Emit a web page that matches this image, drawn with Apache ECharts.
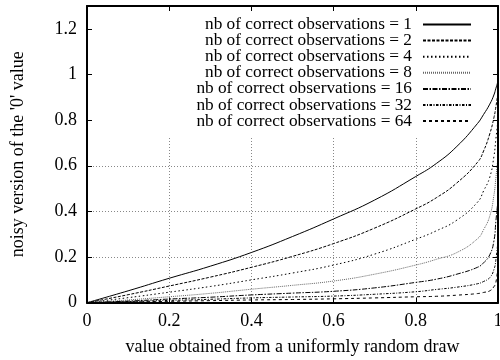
<!DOCTYPE html>
<html>
<head>
<meta charset="utf-8">
<script src="https://cdn.jsdelivr.net/npm/echarts@6/dist/echarts.min.js"></script>
<style>html,body{margin:0;padding:0;background:#fff}#c{width:500px;height:360px}</style>
</head>
<body>
<div id="c"></div>
<script>
var xs   = [0, 0.1, 0.2, 0.3, 0.4, 0.5, 0.6, 0.7, 0.8, 0.85, 0.9, 0.95, 0.965, 0.98, 0.99, 0.995, 1.0];
var n1   = [0, 0.052, 0.107, 0.160, 0.220, 0.290, 0.367, 0.450, 0.553, 0.610, 0.685, 0.785, 0.825, 0.870, 0.910, 0.940, 0.970];
var n2   = [0, 0.035, 0.073, 0.112, 0.155, 0.203, 0.259, 0.327, 0.411, 0.460, 0.525, 0.615, 0.665, 0.740, 0.810, 0.860, 0.920];
var n4   = [0, 0.022, 0.046, 0.071, 0.100, 0.130, 0.165, 0.213, 0.278, 0.315, 0.362, 0.440, 0.490, 0.550, 0.640, 0.720, 0.800];
var n8   = [0, 0.012, 0.026, 0.041, 0.059, 0.076, 0.095, 0.125, 0.165, 0.190, 0.220, 0.280, 0.320, 0.380, 0.470, 0.550, 0.640];
var n16  = [0, 0.007, 0.016, 0.024, 0.034, 0.042, 0.050, 0.065, 0.089, 0.103, 0.125, 0.155, 0.175, 0.210, 0.270, 0.360, 0.450];
var n32  = [0, 0.005, 0.010, 0.015, 0.021, 0.025, 0.029, 0.037, 0.048, 0.058, 0.068, 0.083, 0.093, 0.110, 0.145, 0.190, 0.275];
var n64  = [0, 0.003, 0.006, 0.009, 0.012, 0.014, 0.017, 0.021, 0.026, 0.028, 0.033, 0.040, 0.045, 0.052, 0.070, 0.090, 0.170];
var names = ['nb of correct observations = 1','nb of correct observations = 2','nb of correct observations = 4',
             'nb of correct observations = 8','nb of correct observations = 16','nb of correct observations = 32',
             'nb of correct observations = 64'];
var seriesValues = [n1, n2, n4, n8, n16, n32, n64];
var dashes = ['solid', [3,1.5], [1.5,2.5], [1,1], [5,1.5,1.5,1.5], [2.5,1.5,1,1.5], [3,3]];
var colors = ['#000','#000','#000','#666','#000','#000','#000'];

var FONT = 'Liberation Serif';
var FS = 18;
var LFS = 17.3;
var chart = echarts.init(document.getElementById('c'), null, {renderer:'canvas'});
var G = {left: 87, top: 6, width: 411, height: 296.7, outerBoundsMode: 'none', containLabel: false};

function axisCommon(extra){
  return Object.assign({
    min: 0, z: 3,
    axisLine: {show: true, onZero: false, lineStyle: {color: '#000', width: 2}},
    axisTick: {show: true, inside: true, length: 5, lineStyle: {color: '#000', width: 1}},
    splitLine: {show: false}
  }, extra);
}

var series = seriesValues.map(function(ys, k){
  return {
    name: names[k], type: 'line', xAxisIndex: 0, yAxisIndex: 0,
    data: xs.map(function(x, i){ return [x, ys[i]]; }),
    symbol: 'none', showSymbol: false, smooth: 0.5,
    lineStyle: {color: colors[k], width: 1, type: dashes[k]},
    itemStyle: {color: colors[k]},
    z: 2
  };
});

chart.setOption({
  animation: false,
  backgroundColor: '#fff',
  textStyle: {fontFamily: FONT},
  grid: G,
  graphic: [{type: 'rect', z: 1, shape: {x: 89, y: 8, width: 407, height: 129}, style: {fill: '#fff'}}],
  legend: {
    orient: 'vertical', right: 23, top: 11, align: 'right',
    itemWidth: 48, itemHeight: 8, itemGap: -0.9,
    selectedMode: false,
    itemStyle: {opacity: 0, color: 'rgba(0,0,0,0)', borderWidth: 0},
    textStyle: {fontFamily: FONT, fontSize: LFS, color: '#000', lineHeight: 17, padding: [0, 6, 0, 0]},
    data: names
  },
  xAxis: [
    axisCommon({type: 'value', position: 'bottom', max: 1, interval: 0.2,
      name: 'value obtained from a uniformly random draw', nameLocation: 'middle', nameGap: 36,
      nameTextStyle: {fontFamily: FONT, fontSize: FS, color: '#000'},
      axisLabel: {show: true, margin: 10, color: '#000', fontFamily: FONT, fontSize: FS}}),
    axisCommon({type: 'value', position: 'top', max: 1, interval: 0.2, axisLabel: {show: false}}),
    {type: 'value', position: 'bottom', min: 0, max: 1, interval: 0.2, z: 0,
      axisLine: {show: false}, axisTick: {show: false}, axisLabel: {show: false},
      splitLine: {show: true, lineStyle: {color: '#888', width: 1, type: [1, 2]}}}
  ],
  yAxis: [
    axisCommon({type: 'value', position: 'left', max: 1.3, interval: 0.2,
      name: "noisy version of the '0' value", nameLocation: 'middle', nameGap: 60,
      nameTextStyle: {fontFamily: FONT, fontSize: FS, color: '#000'},
      axisLabel: {show: true, margin: 10, color: '#000', fontFamily: FONT, fontSize: FS, showMaxLabel: false}}),
    axisCommon({type: 'value', position: 'right', max: 1.3, interval: 0.2, axisLabel: {show: false}}),
    {type: 'value', position: 'left', min: 0, max: 1.3, interval: 0.2, z: 0,
      axisLine: {show: false}, axisTick: {show: false}, axisLabel: {show: false},
      splitLine: {show: true, lineStyle: {color: '#888', width: 1, type: [1, 2]}}}
  ],
  series: series
});
</script>
</body>
</html>
